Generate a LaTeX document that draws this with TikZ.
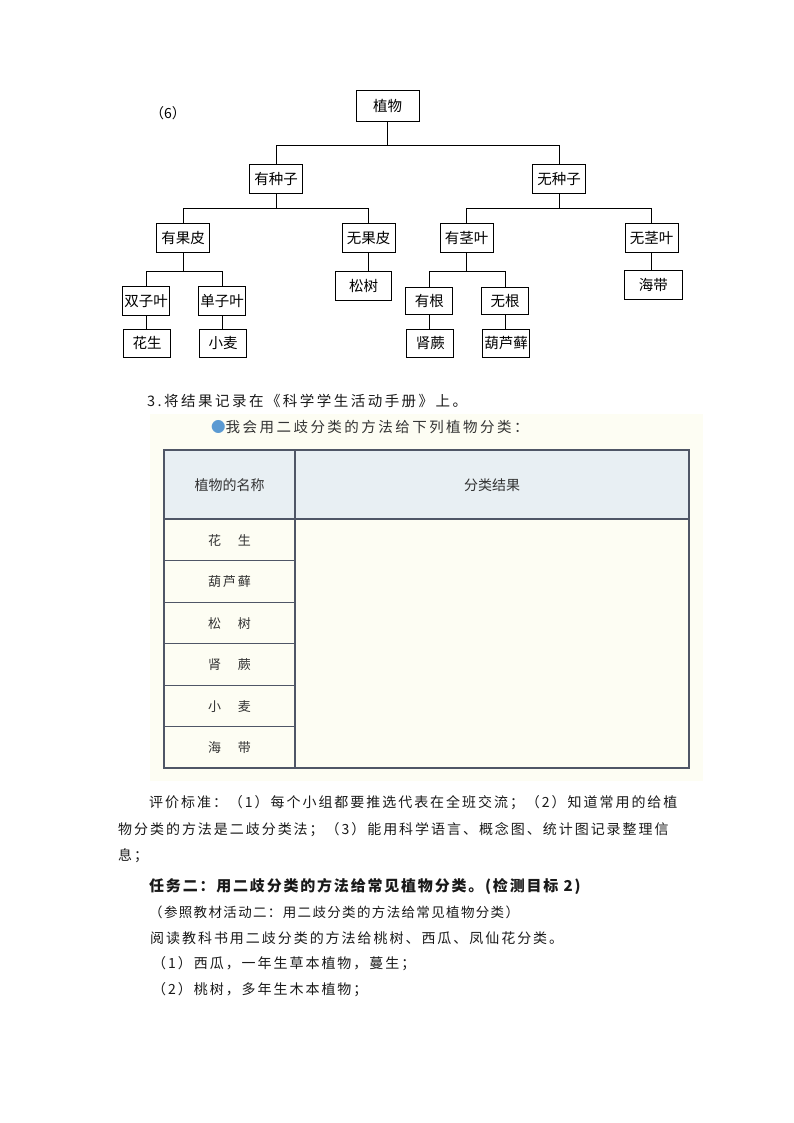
\documentclass[tikz,border=0pt]{standalone}
\usepackage{fontspec}
\setmainfont{Noto Sans CJK SC}
\newfontfamily\tfont{Noto Sans CJK SC}
\newfontfamily\bodyfont[LetterSpace=14]{Noto Sans CJK SC}
\newfontfamily\headfont[LetterSpace=17]{Noto Sans CJK SC}
\newfontfamily\taskfont[LetterSpace=12]{Noto Sans CJK SC}
\newfontfamily\smallfont[LetterSpace=10]{Noto Sans CJK SC}
\definecolor{panel}{HTML}{FDFDF3}
\definecolor{hdr}{HTML}{E8EFF3}
\definecolor{tline}{HTML}{4F5666}
\definecolor{bulletc}{HTML}{5B9AD2}
\definecolor{txt}{HTML}{1A1A1A}
\definecolor{ttxt}{HTML}{333333}
\tikzset{
  tbox/.style={draw=black, line width=0.8pt, inner sep=0pt, minimum height=29, minimum width=53,
    font=\fontsize{14.5}{16}\selectfont\tfont, text=black},
  sbox/.style={tbox, minimum width=47, minimum height=28.5},
  conn/.style={draw=black, line width=0.8pt},
  line/.style={anchor=west, inner sep=0pt, text=txt, font=\fontsize{14}{16}\selectfont\bodyfont},
  cell/.style={inner sep=0pt, text=ttxt, font=\fontsize{14}{16}\selectfont\tfont},
  rowtxt/.style={inner sep=0pt, text=ttxt, font=\fontsize{13}{15}\selectfont\tfont},
  grid/.style={draw=tline, line width=1.1pt}
}
\begin{document}
\begin{tikzpicture}[x=1pt,y=-1pt]
\useasboundingbox (0,0) rectangle (794,1123);
\fill[white] (0,0) rectangle (794,1123);

% ---------- tree ----------
\node[line, text=black, font=\fontsize{14}{16}\selectfont\tfont] (lab6) at (150,113) {（6）};
\node[tbox, minimum width=63, minimum height=31.5] (zw) at (387.5,106) {植物};
\node[tbox] (yzz) at (276,178.7) {有种子};
\node[tbox] (wzz) at (559,179) {无种子};
\node[tbox] (ygp) at (183,237.8) {有果皮};
\node[tbox] (wgp) at (368.7,237.5) {无果皮};
\node[tbox] (yjy) at (466.7,237.8) {有茎叶};
\node[tbox] (wjy) at (651.7,237.5) {无茎叶};
\node[sbox] (szy) at (146,300.8) {双子叶};
\node[sbox] (dzy) at (222,300.8) {单子叶};
\node[sbox] (hs) at (147,343.3) {花生};
\node[sbox] (xm) at (223,343.3) {小麦};
\node[tbox, minimum width=56.5, minimum height=29.7] (ss) at (363.5,285.8) {松树};
\node[sbox, minimum height=27.7] (yg) at (429.3,301) {有根};
\node[sbox, minimum height=27.7] (wg) at (505,301) {无根};
\node[sbox] (sj) at (430.3,343.3) {肾蕨};
\node[sbox] (hlx) at (506,343.3) {葫芦藓};
\node[tbox, minimum width=58.7, minimum height=28.3] (hd) at (653.3,285) {海带};

\coordinate (b0) at (0,145);
\coordinate (b1) at (0,208);
\coordinate (b2) at (0,271);
\draw[conn] (zw.south) -- (zw.south|-b0);
\draw[conn] (yzz.north) -- (yzz.north|-b0) -- (wzz.north|-b0) -- (wzz.north);
\draw[conn] (yzz.south) -- (yzz.south|-b1);
\draw[conn] (ygp.north) -- (ygp.north|-b1) -- (wgp.north|-b1) -- (wgp.north);
\draw[conn] (wzz.south) -- (wzz.south|-b1);
\draw[conn] (yjy.north) -- (yjy.north|-b1) -- (wjy.north|-b1) -- (wjy.north);
\draw[conn] (ygp.south) -- (ygp.south|-b2);
\draw[conn] (szy.north) -- (szy.north|-b2) -- (dzy.north|-b2) -- (dzy.north);
\draw[conn] (yjy.south) -- (yjy.south|-b2);
\draw[conn] (yg.north) -- (yg.north|-b2) -- (wg.north|-b2) -- (wg.north);
\draw[conn] (wgp.south) -- (wgp.south|-ss.north);
\draw[conn] (wjy.south) -- (wjy.south|-hd.north);
\draw[conn] (szy.south) -- (szy.south|-hs.north);
\draw[conn] (dzy.south) -- (dzy.south|-xm.north);
\draw[conn] (yg.south) -- (yg.south|-sj.north);
\draw[conn] (wg.south) -- (wg.south|-hlx.north);

% ---------- record line ----------
\node[line, font=\fontsize{14.5}{16}\selectfont\headfont] (rec) at (147,401) {3.将结果记录在《科学学生活动手册》上。};

% ---------- panel & table ----------
\fill[panel] (150,414) rectangle (703,781);
\node[line, text=ttxt, font=\fontsize{14.5}{16}\selectfont\headfont] (bul) at (211,427)
  {{\color{bulletc}●}我会用二歧分类的方法给下列植物分类：};
\fill[hdr] (164,450) rectangle (689,519);
\draw[grid] (164,450) rectangle (689,768);
\draw[grid] (295,450) -- (295,768);
\draw[grid] (164,519) -- (689,519);
\foreach \k in {1,...,5} {
  \draw[draw=tline, line width=0.9pt] (164,519+41.5*\k) -- (295,519+41.5*\k);
}
\node[cell] (h1) at (229.5,485) {植物的名称};
\node[cell] (h2) at (492,485) {分类结果};
\node[rowtxt] (r1) at (229.5,540.3) {花\hspace{17pt}生};
\node[rowtxt] (r2) at (229.5,581.8) {葫\hspace{2pt}芦\hspace{2pt}藓};
\node[rowtxt] (r3) at (229.5,623.3) {松\hspace{17pt}树};
\node[rowtxt] (r4) at (229.5,664.8) {肾\hspace{17pt}蕨};
\node[rowtxt] (r5) at (229.5,706.3) {小\hspace{17pt}麦};
\node[rowtxt] (r6) at (229.5,747.8) {海\hspace{17pt}带};

% ---------- text below ----------
\node[line] (p1) at (149,803) {评价标准：（1）每个小组都要推选代表在全班交流；（2）知道常用的给植};
\node[line] (p2) at (118,829.5) {物分类的方法是二歧分类法；（3）能用科学语言、概念图、统计图记录整理信};
\node[line] (p3) at (118,856) {息；};
\node[line, font=\fontsize{15}{17}\selectfont\taskfont\bfseries] (task) at (149,886) {任务二：用二歧分类的方法给常见植物分类。(检测目标 2)};
\node[line, font=\fontsize{13.5}{15}\selectfont\smallfont] (ref) at (149,912) {（参照教材活动二：用二歧分类的方法给常见植物分类）};
\node[line] (read) at (150,938) {阅读教科书用二歧分类的方法给桃树、西瓜、凤仙花分类。};
\node[line] (i1) at (152,964) {（1）西瓜，一年生草本植物，蔓生；};
\node[line] (i2) at (152,990) {（2）桃树，多年生木本植物；};
\end{tikzpicture}
\end{document}
